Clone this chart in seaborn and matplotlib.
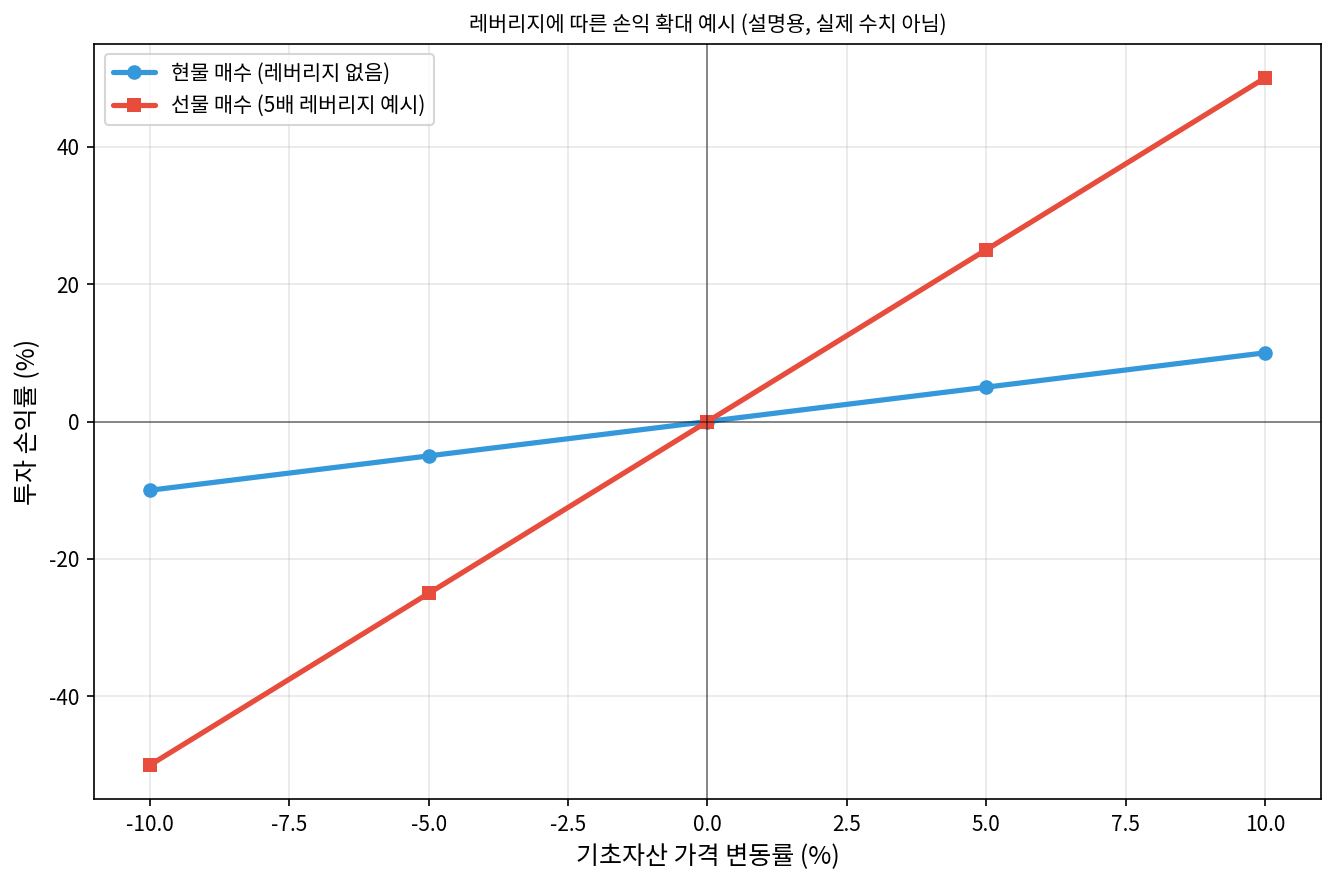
import numpy as np
import pandas as pd
import seaborn as sns
import matplotlib.pyplot as plt

# ----------------------------
# Data
# ----------------------------
price_change = [-10, -5, 0, 5, 10]
spot_return = [-10, -5, 0, 5, 10]
futures_return = [-50, -25, 0, 25, 50]

spot_label = "현물 매수 (레버리지 없음)"
futures_label = "선물 매수 (5배 레버리지 예시)"

df = pd.DataFrame({
    "x": price_change * 2,
    "y": spot_return + futures_return,
    "series": [spot_label] * len(price_change) + [futures_label] * len(price_change),
})

# ----------------------------
# Style
# ----------------------------
sns.set_style("ticks", rc={
    "text.color": "black",
    "axes.labelcolor": "black",
    "xtick.color": "black",
    "ytick.color": "black",
    "axes.edgecolor": "black",
})
plt.rcParams["font.family"] = ["Noto Sans CJK KR", "DejaVu Sans"]
plt.rcParams["axes.unicode_minus"] = False

fig, ax = plt.subplots(figsize=(8.9, 5.9), dpi=150)

palette = {spot_label: "#3498db", futures_label: "#e74c3c"}
markers = {spot_label: "o", futures_label: "s"}

sns.lineplot(data=df, x="x", y="y", hue="series", style="series",
             palette=palette, markers=markers, dashes=False,
             linewidth=2.5, markersize=7, markeredgewidth=0, ax=ax)

ax.axhline(0, color="black", linewidth=0.8, alpha=0.5)
ax.axvline(0, color="black", linewidth=0.8, alpha=0.5)
ax.grid(True, color="#b0b0b0", alpha=0.3)

ax.set_title("레버리지에 따른 손익 확대 예시 (설명용, 실제 수치 아님)", fontsize=10)
ax.set_xlabel("기초자산 가격 변동률 (%)", fontsize=12)
ax.set_ylabel("투자 손익률 (%)", fontsize=12)
ax.xaxis.set_major_formatter(plt.FormatStrFormatter("%.1f"))
ax.tick_params(labelsize=10)

ax.legend(title=None, loc="upper left", fontsize=10)

fig.subplots_adjust(left=0.0706, right=0.9893, top=0.9507, bottom=0.0967)
plt.savefig("out.png")
plt.close()
